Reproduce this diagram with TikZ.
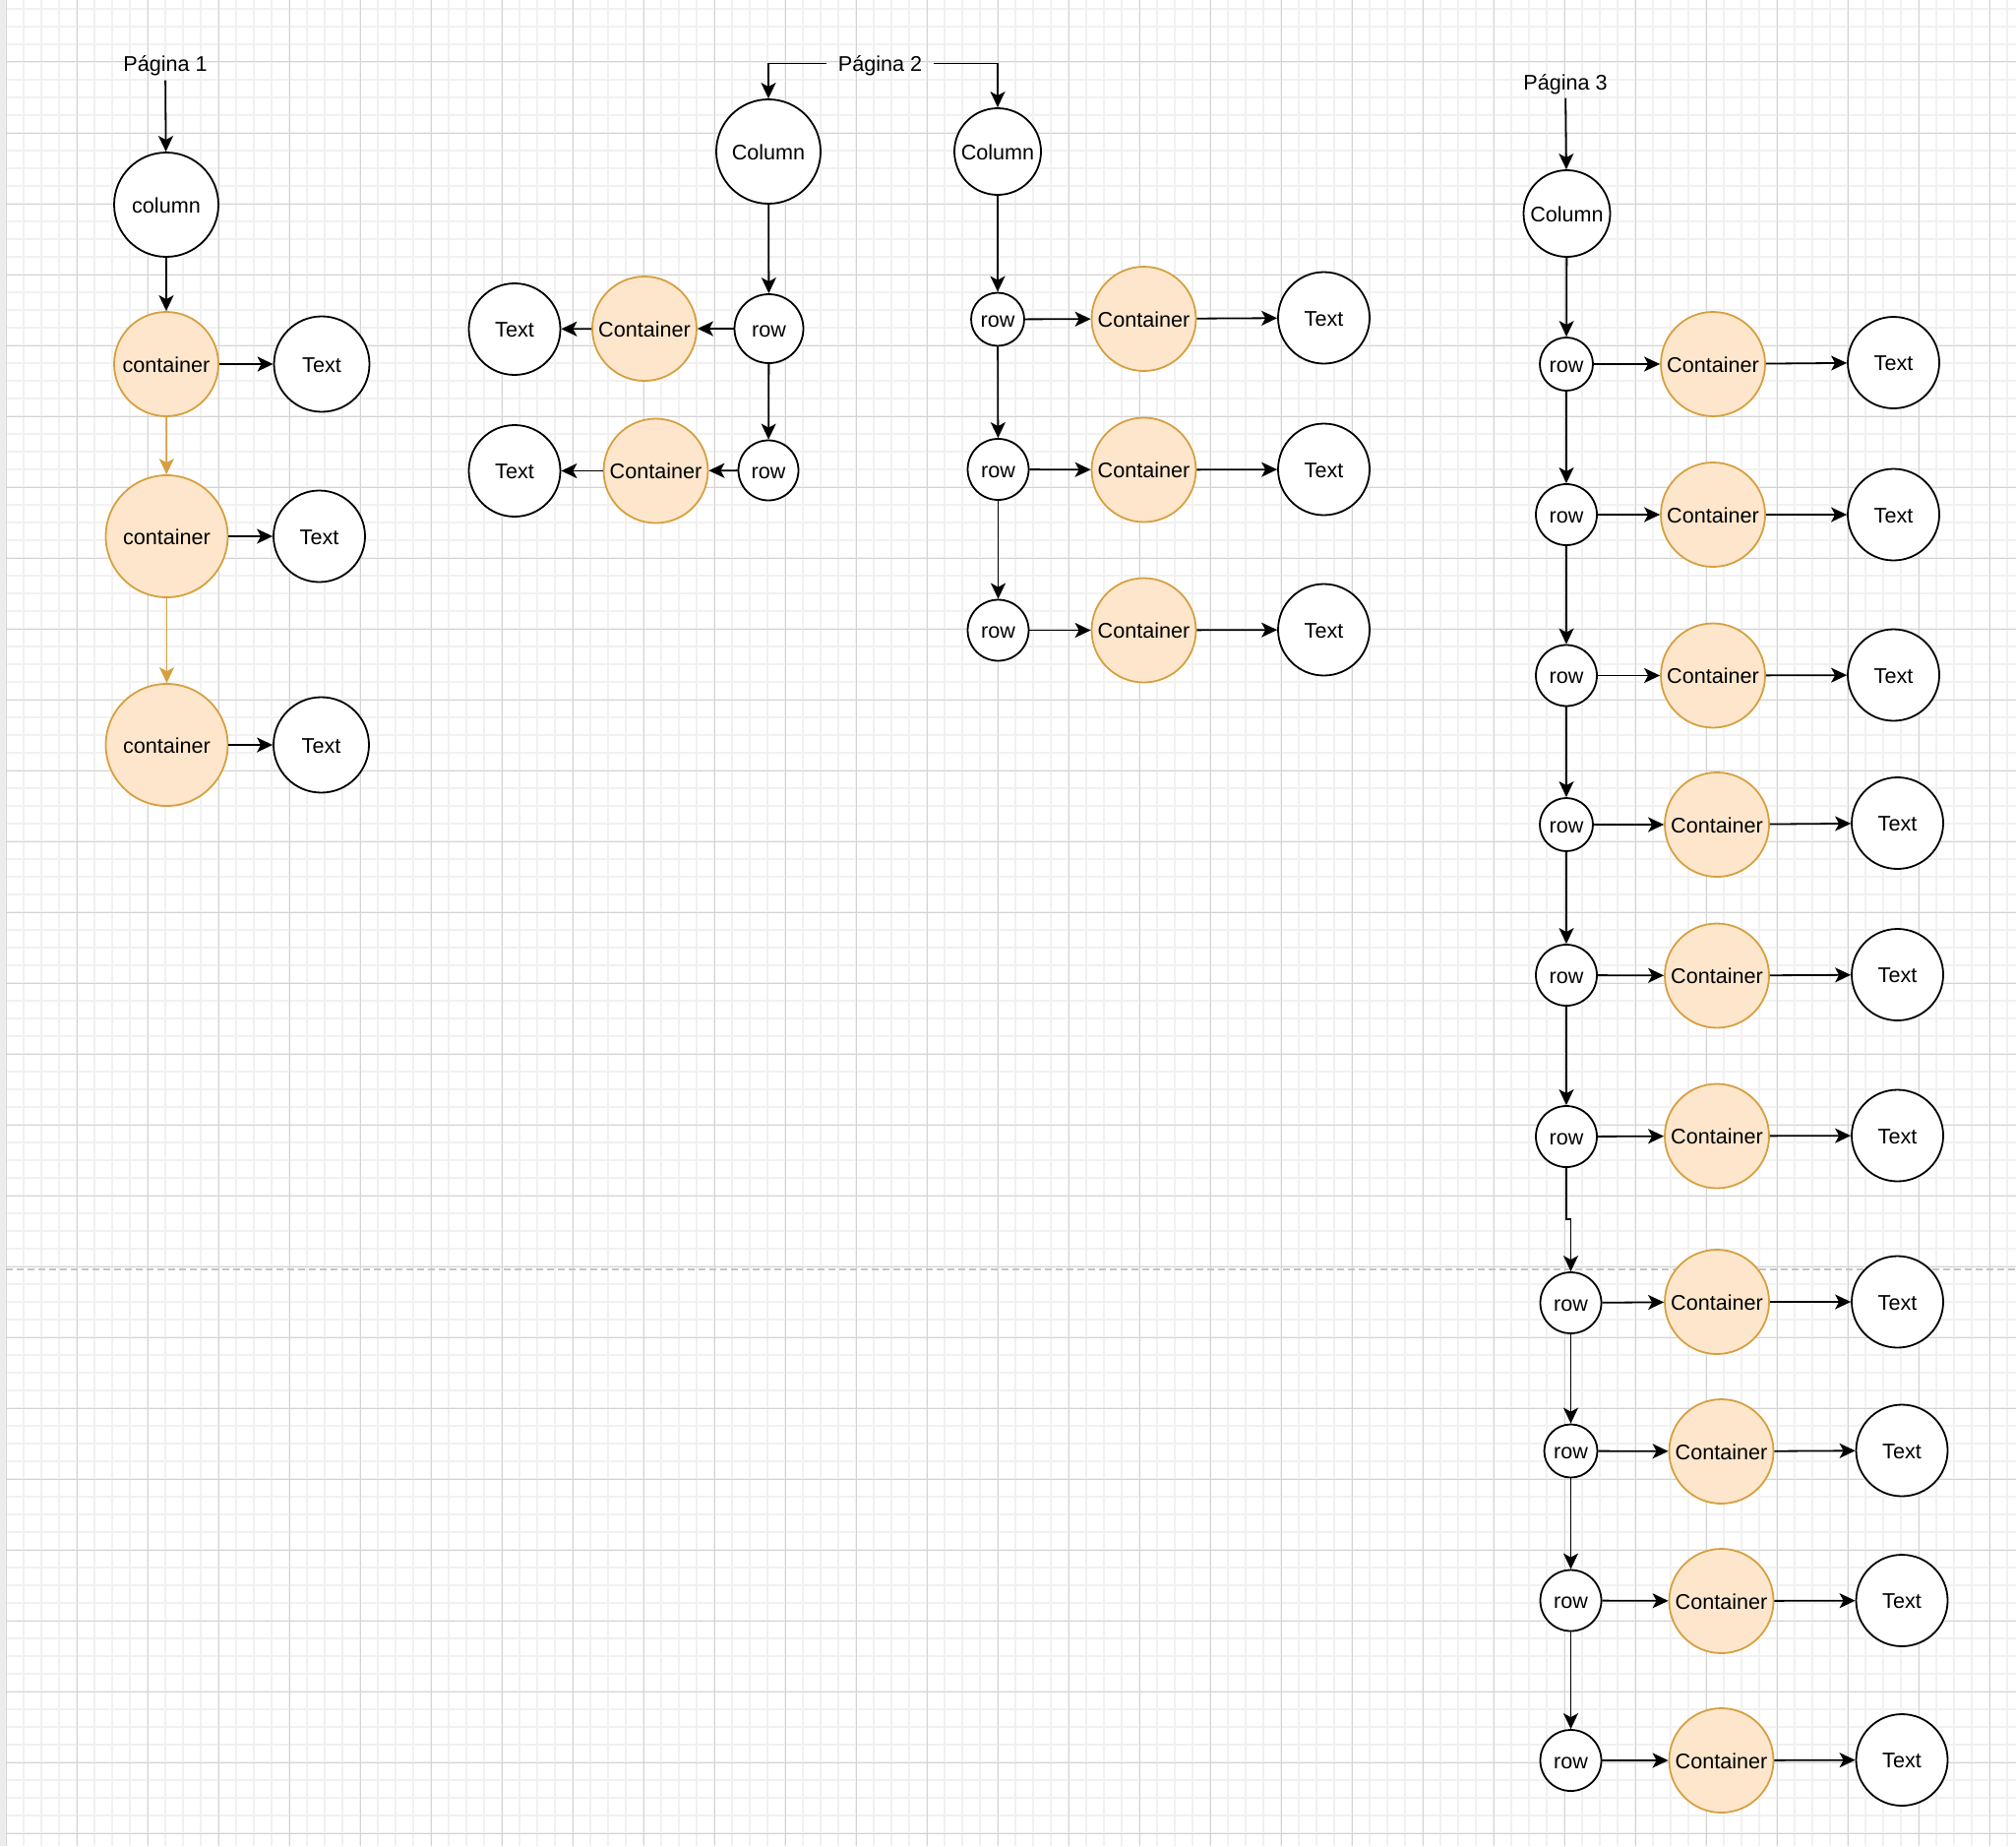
\documentclass[tikz,border=0pt]{standalone}
\usepackage{fontspec}
\setmainfont{Liberation Sans}
\usetikzlibrary{arrows.meta}
\definecolor{cfill}{HTML}{FDE6CC}
\definecolor{cstroke}{HTML}{D6A040}
\definecolor{gmin}{HTML}{F1F1F1}
\definecolor{gmaj}{HTML}{D4D4D4}
\definecolor{gbreak}{HTML}{C4C4C4}
\tikzset{
  base/.style={circle, draw=black, line width=1.8pt, inner sep=0pt, fill=white,
    text height=20pt, text depth=4pt,
    font=\fontsize{21.6}{26}\selectfont},
  plain/.style={base, minimum size=#1},
  cont/.style={base, fill=cfill, draw=cstroke, minimum size=#1},
  lab/.style={inner sep=0pt, minimum height=33pt, text height=20pt, text depth=4pt,
    font=\fontsize{21.6}{26}\selectfont},
  arr/.style={line width=1.8pt, -{Stealth[length=16pt,width=15pt,inset=4pt]}},
  oarr/.style={arr, draw=cstroke},
}
\begin{document}
\begin{tikzpicture}[x=1pt,y=-1pt]
\useasboundingbox (0,0) rectangle (2049,1876);
% background grid
\fill[white] (0,0) rectangle (2049,1876);
\foreach \x in {6,24,...,2048} \draw[gmin, line width=1.4pt] (\x,0) -- (\x,1876);
\foreach \y in {9,27,...,1876} \draw[gmin, line width=1.4pt] (6,\y) -- (2049,\y);
\foreach \x in {6,78,...,2048} \draw[gmaj, line width=1pt] (\x,0) -- (\x,1876);
\foreach \y in {63,135,...,1876} \draw[gmaj, line width=1pt] (6,\y) -- (2049,\y);
\fill[gray!15] (0,0) rectangle (5,1876);
\draw[gbreak, line width=1.4pt, dash pattern=on 7pt off 4pt] (6,1290) -- (2049,1290);

% ---------- Pagina 1 ----------
\node[lab] (lab1) at (168,65) {Página 1};
\node[plain=106] (col1) at (169,208) {column};
\node[cont=106] (c11) at (169,370) {container};
\node[plain=97] (t11) at (327,370) {Text};
\node[cont=124] (c12) at (169.5,545) {container};
\node[plain=93] (t12) at (324.5,545) {Text};
\node[cont=124] (c13) at (169.5,757) {container};
\node[plain=97] (t13) at (326.5,757) {Text};
\draw[arr] (lab1) -- (col1);
\draw[arr] (col1) -- (c11);
\draw[arr] (c11) -- (t11);
\draw[oarr] (c11) -- (c12);
\draw[arr] (c12) -- (t12);
\draw[oarr] (c12) -- (c13);
\draw[arr] (c13) -- (t13);

% ---------- Pagina 2 ----------
\node[lab, minimum width=109pt] (lab2) at (894.5,64.5) {Página 2};
\node[plain=106] (colL) at (781,154) {Column};
\node[plain=88] (colR) at (1014,154) {Column};
\node[plain=70] (rowL1) at (781.5,334) {row};
\node[cont=106] (conL1) at (655,334) {Container};
\node[plain=93] (txtL1) at (523,334.5) {Text};
\node[plain=61] (rowL2) at (781,478) {row};
\node[cont=106] (conL2) at (666.5,478.5) {Container};
\node[plain=93] (txtL2) at (523,478.5) {Text};
\node[plain=54] (rowR1) at (1014,324.5) {row};
\node[cont=106] (conR1) at (1162.5,324) {Container};
\node[plain=93] (txtR1) at (1345.5,323) {Text};
\node[plain=62] (rowR2) at (1014.5,477) {row};
\node[cont=106] (conR2) at (1162.5,477.5) {Container};
\node[plain=93] (txtR2) at (1345.5,477) {Text};
\node[plain=62] (rowR3) at (1014.5,640.5) {row};
\node[cont=106] (conR3) at (1162.5,640.5) {Container};
\node[plain=93] (txtR3) at (1345.5,640) {Text};
\draw[arr] (lab2.west) -| (colL.north);
\draw[arr] (lab2.east) -| (colR.north);
\draw[arr] (colL) -- (rowL1);
\draw[arr] (rowL1) -- (conL1);
\draw[arr] (conL1) -- (txtL1);
\draw[arr] (rowL1) -- (rowL2);
\draw[arr] (rowL2) -- (conL2);
\draw[arr] (conL2) -- (txtL2);
\draw[arr] (colR) -- (rowR1);
\draw[arr] (rowR1) -- (conR1);
\draw[arr] (conR1) -- (txtR1);
\draw[arr] (rowR1) -- (rowR2);
\draw[arr] (rowR2) -- (conR2);
\draw[arr] (conR2) -- (txtR2);
\draw[arr] (rowR2) -- (rowR3);
\draw[arr] (rowR3) -- (conR3);
\draw[arr] (conR3) -- (txtR3);

% ---------- Pagina 3 ----------
\node[lab] (lab3) at (1591,83) {Página 3};
\node[plain=88] (col3) at (1592.5,217) {Column};
\node[plain=54] (r1) at (1592,370) {row};
\node[plain=62] (r2) at (1592,523) {row};
\node[plain=62] (r3) at (1592,686.5) {row};
\node[plain=54] (r4) at (1592,838) {row};
\node[plain=62] (r5) at (1592,991) {row};
\node[plain=62] (r6) at (1592,1155) {row};
\node[plain=62] (r7) at (1596.5,1324) {row};
\node[plain=54] (r8) at (1596.5,1474.5) {row};
\node[plain=62] (r9) at (1596.5,1626.5) {row};
\node[plain=62] (r10) at (1596.5,1789) {row};
\node[cont=106] (k1) at (1741,370) {Container};
\node[cont=106] (k2) at (1741,523) {Container};
\node[cont=106] (k3) at (1741,686.5) {Container};
\node[cont=106] (k4) at (1745,838) {Container};
\node[cont=106] (k5) at (1745,991.5) {Container};
\node[cont=106] (k6) at (1745,1154.5) {Container};
\node[cont=106] (k7) at (1745,1323) {Container};
\node[cont=106] (k8) at (1749.5,1475) {Container};
\node[cont=106] (k9) at (1749.5,1627) {Container};
\node[cont=106] (k10) at (1749.5,1789) {Container};
\node[plain=93] (x1) at (1924.5,368.5) {Text};
\node[plain=93] (x2) at (1924.5,523) {Text};
\node[plain=93] (x3) at (1924.5,686) {Text};
\node[plain=93] (x4) at (1928.5,836.5) {Text};
\node[plain=93] (x5) at (1928.5,990.5) {Text};
\node[plain=93] (x6) at (1928.5,1154) {Text};
\node[plain=93] (x7) at (1928.5,1323) {Text};
\node[plain=93] (x8) at (1933,1474) {Text};
\node[plain=93] (x9) at (1933,1626.5) {Text};
\node[plain=93] (x10) at (1933,1788.5) {Text};
\coordinate (j67) at (1592,1239);
\draw[arr] (lab3) -- (col3);
\draw[arr] (col3) -- (r1);
\draw[arr] (r1) -- (r2);
\draw[arr] (r2) -- (r3);
\draw[arr] (r3) -- (r4);
\draw[arr] (r4) -- (r5);
\draw[arr] (r5) -- (r6);
\draw[arr] (r6.south) -- (j67) -| (r7.north);
\draw[arr] (r7) -- (r8);
\draw[arr] (r8) -- (r9);
\draw[arr] (r9) -- (r10);
\foreach \i in {1,...,10}{
  \draw[arr] (r\i) -- (k\i);
  \draw[arr] (k\i) -- (x\i);
}
\end{tikzpicture}
\end{document}
